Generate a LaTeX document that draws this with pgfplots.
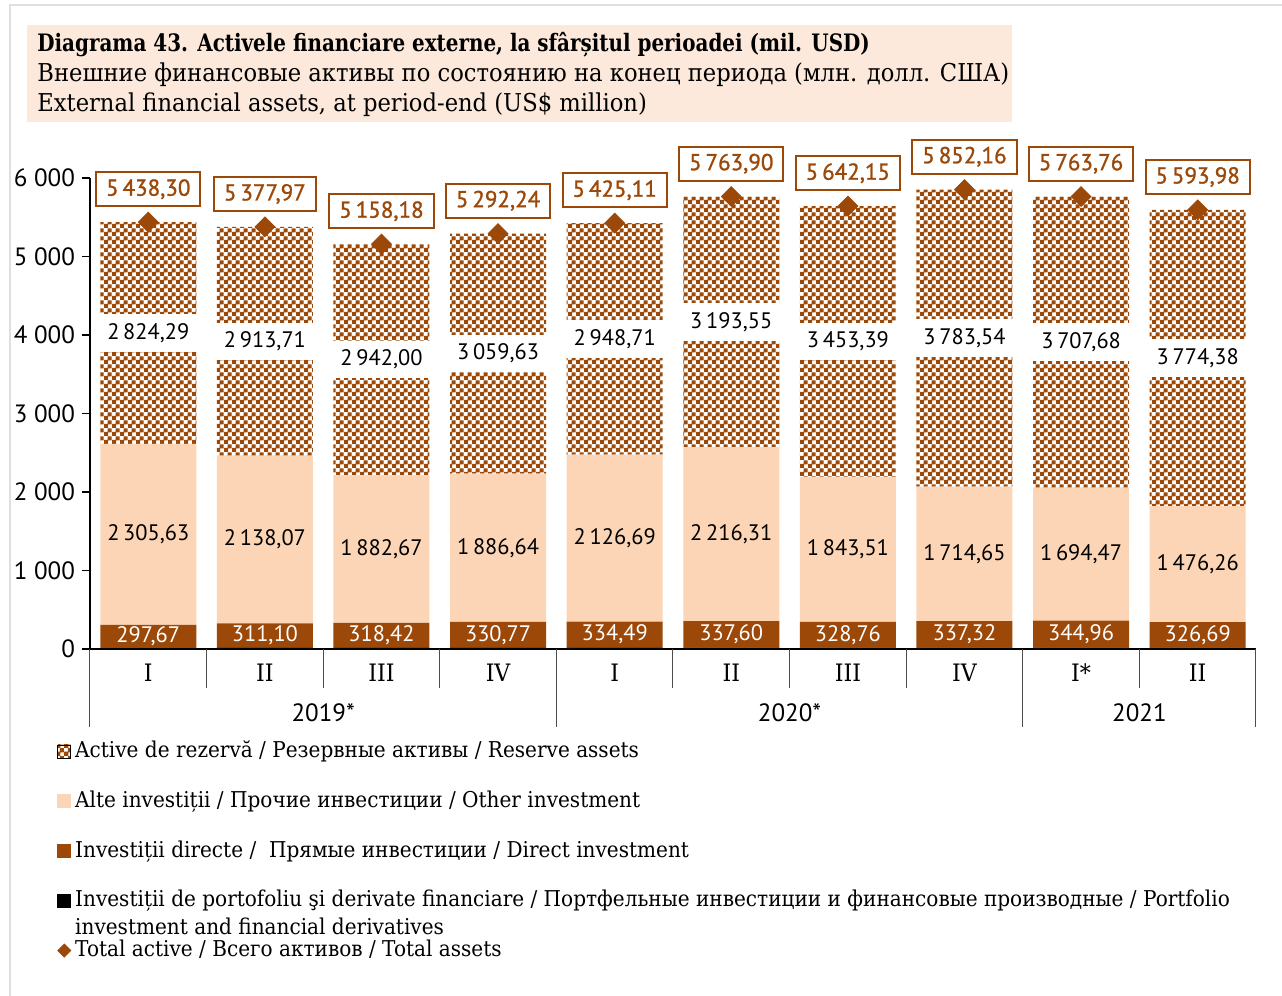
\documentclass[border=0pt]{standalone}
\usepackage{fontspec}
\setmainfont{DejaVu Serif}[FakeStretch=0.92]
\newfontfamily\titlebf{DejaVu Serif}[FakeStretch=0.83]
\newfontfamily\numfont{PT Sans}
\newfontfamily\numsb{PT Sans}[FakeBold=1.2]
\usepackage{pgfplots}
\usepackage{pgfplotstable}
\pgfplotsset{compat=1.18}
\usetikzlibrary{patterns}
\definecolor{brn}{RGB}{155,72,8}
\definecolor{peach}{RGB}{251,213,181}
\definecolor{titlebg}{RGB}{252,233,219}
\pgfkeys{/pgf/number format/.cd,fixed,fixed zerofill,precision=2,use comma,1000 sep={\hspace{0.17em}},assume math mode=true}
\pgfdeclarepatternformonly{finechecker}{\pgfqpoint{0pt}{0pt}}{\pgfqpoint{4pt}{4pt}}{\pgfqpoint{4pt}{4pt}}{%
  \pgfpathrectangle{\pgfqpoint{0pt}{0pt}}{\pgfqpoint{2.3pt}{2.3pt}}%
  \pgfpathrectangle{\pgfqpoint{2pt}{2pt}}{\pgfqpoint{2.3pt}{2.3pt}}%
  \pgfusepath{fill}}

% portfolio = total minus the three labelled components
\pgfplotstableread{
x port direct other reserve total
0 10.71 297.67 2305.63 2824.29 5438.30
1 15.09 311.10 2138.07 2913.71 5377.97
2 15.09 318.42 1882.67 2942.00 5158.18
3 15.20 330.77 1886.64 3059.63 5292.24
4 15.22 334.49 2126.69 2948.71 5425.11
5 16.44 337.60 2216.31 3193.55 5763.90
6 16.49 328.76 1843.51 3453.39 5642.15
7 16.65 337.32 1714.65 3783.54 5852.16
8 16.65 344.96 1694.47 3707.68 5763.76
9 16.65 326.69 1476.26 3774.38 5593.98
}\data
\pgfplotstablecreatecol[create col/expr={\thisrow{port}+\thisrow{direct}/2}]{dmid}{\data}
\pgfplotstablecreatecol[create col/expr={\thisrow{port}+\thisrow{direct}+\thisrow{other}/2}]{omid}{\data}
\pgfplotstablecreatecol[create col/expr={\thisrow{port}+\thisrow{direct}+\thisrow{other}+\thisrow{reserve}/2}]{rmid}{\data}

\pgfplotsset{
  common/.style={at={(0,0)}, anchor=south west, scale only axis,
    width=583pt, height=235.5pt, xmin=-0.5, xmax=9.5, ymin=0, ymax=6000, clip=false},
}
\tikzset{lbl/.style={font=\numfont\fontsize{11.2}{12}\selectfont}}

\begin{document}
\begin{tikzpicture}
\useasboundingbox (-45pt,-173.5pt) rectangle (596pt,324.5pt);
\draw[gray!25, line width=1pt] (-40pt,-180pt) -- (-40pt,322pt) -- (600pt,322pt);

\fill[titlebg] (-31.5pt,263.5pt) rectangle (461pt,312pt);
\node[anchor=base west, inner sep=0, font=\titlebf\bfseries\fontsize{12}{15}\selectfont] at (-26.5pt,298.5pt)
  {Diagrama 43. Activele financiare externe, la sfârșitul perioadei (mil. USD)};
\node[anchor=base west, inner sep=0, font=\fontsize{12.3}{15}\selectfont] at (-26.5pt,283.5pt)
  {Внешние финансовые активы по состоянию на конец периода (млн. долл. США)};
\node[anchor=base west, inner sep=0, font=\fontsize{12.3}{15}\selectfont] at (-26.5pt,268.5pt)
  {External financial assets, at period-end (US\$ million)};

\begin{axis}[common,
  ybar stacked, bar width=48pt,
  axis x line=bottom, axis y line=left, axis line style={-, black, line width=0.7pt},
  xtick={0,...,9}, xticklabels={I,II,III,IV,I,II,III,IV,I*,II},
  xtick style={draw=none},
  xticklabel style={font=\fontsize{12}{14}\selectfont, yshift=0pt},
  ytick={0,1000,...,6000}, yticklabels={0,1 000,2 000,3 000,4 000,5 000,6 000},
  yticklabel style={font=\numfont\fontsize{12.5}{14}\selectfont},
  ytick style={draw=black, line width=0.6pt}, tick align=outside, major tick length=4pt,
]
\addplot[fill=black, draw=none] table[x=x,y=port]{\data};
\addplot[fill=brn, draw=none] table[x=x,y=direct]{\data};
\addplot[fill=peach, draw=none] table[x=x,y=other]{\data};
\addplot[pattern=finechecker, pattern color=brn, draw=none] table[x=x,y=reserve]{\data};

\pgfplotsinvokeforeach{0.5,1.5,2.5,4.5,5.5,6.5,8.5}{
  \draw[black!70, line width=0.5pt] (axis cs:#1,0) -- ++(0pt,-19.5pt);}
\pgfplotsinvokeforeach{-0.5,3.5,7.5,9.5}{
  \draw[black!70, line width=0.5pt] (axis cs:#1,0) -- ++(0pt,-39pt);}
\node[font=\numfont\fontsize{12.5}{14}\selectfont] at ([yshift=-32pt]axis cs:1.5,0) {2019*};
\node[font=\numfont\fontsize{12.5}{14}\selectfont] at ([yshift=-32pt]axis cs:5.5,0) {2020*};
\node[font=\numfont\fontsize{12.5}{14}\selectfont] at ([yshift=-32pt]axis cs:8.5,0) {2021};
\end{axis}

\begin{axis}[common, hide axis,
  legend style={at={(0,0)}, anchor=north west, xshift=-16.5pt, yshift=-45pt,
    draw=none, fill=none, inner sep=0pt, row sep=12.9pt,
    font=\fontsize{10.9}{14}\selectfont,
    nodes={text height=9pt, text depth=3pt, inner xsep=2pt, inner ysep=0pt}},
  legend cell align=left,
]
\addlegendimage{legend image code/.code={\path[pattern=finechecker, pattern color=brn] (0pt,-3.25pt) rectangle (6.5pt,3.25pt);}}
\addlegendentry{Active de rezervă / Резервные активы / Reserve assets}
\addlegendimage{legend image code/.code={\fill[peach] (0pt,-3.25pt) rectangle (6.5pt,3.25pt);}}
\addlegendentry{Alte investiții / Прочие инвестиции / Other investment}
\addlegendimage{legend image code/.code={\fill[brn] (0pt,-3.25pt) rectangle (6.5pt,3.25pt);}}
\addlegendentry{Investiții directe /\ \ Прямые инвестиции / Direct investment}
\addlegendimage{legend image code/.code={\fill[black] (0pt,-3.25pt) rectangle (6.5pt,3.25pt);}}
\addlegendentry{\smash{\parbox[t]{660pt}{Investiții de portofoliu şi derivate financiare / Портфельные инвестиции и финансовые производные / Portfolio\\investment and financial derivatives}}}
\addlegendimage{legend image code/.code={\fill[brn] (3.25pt,-3.25pt) -- (6.5pt,0pt) -- (3.25pt,3.25pt) -- (0pt,0pt) -- cycle;}}
\addlegendentry{Total active / Всего активов / Total assets}

\addplot[draw=none, nodes near coords, point meta=explicit,
  nodes near coords style={lbl, anchor=center, text=white}] table[x=x,y=dmid,meta=direct]{\data};
\addplot[draw=none, nodes near coords, point meta=explicit,
  nodes near coords style={lbl, anchor=center, text=black}] table[x=x,y=omid,meta=other]{\data};
\addplot[draw=none, nodes near coords, point meta=explicit,
  nodes near coords style={lbl, anchor=center, text=black, fill=white, inner xsep=6pt, inner ysep=4.5pt}] table[x=x,y=rmid,meta=reserve]{\data};
\addplot[only marks, mark=square*, mark size=3.5pt, mark options={rotate=45, fill=brn, draw=brn},
  nodes near coords, point meta=explicit,
  nodes near coords style={font=\numsb\fontsize{11.5}{12}\selectfont, anchor=south, yshift=7.5pt, draw=brn, line width=1pt, fill=white, text=brn,
    inner xsep=5pt, inner ysep=3pt, text height=8.8pt, text depth=2.2pt}] table[x=x,y=total,meta=total]{\data};
\end{axis}
\end{tikzpicture}
\end{document}
